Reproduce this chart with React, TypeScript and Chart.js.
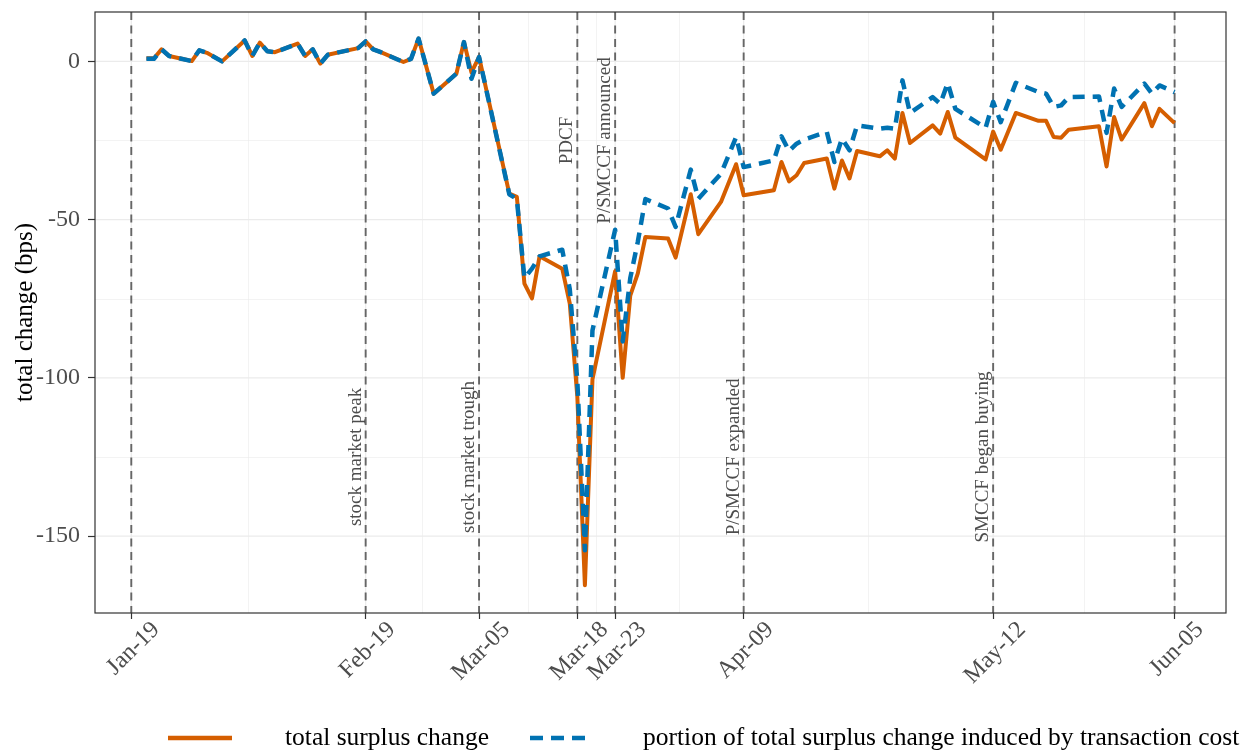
import React, { useEffect, useRef } from "react";
import { Chart, registerables } from "chart.js";

Chart.register(...registerables);

// ---------------- data ----------------
const dates: string[] = [
  "2020-01-21", "2020-01-22", "2020-01-23", "2020-01-24", "2020-01-27", "2020-01-28", "2020-01-29", "2020-01-31",
  "2020-02-03", "2020-02-04", "2020-02-05", "2020-02-06", "2020-02-07", "2020-02-10", "2020-02-11", "2020-02-12",
  "2020-02-13", "2020-02-14", "2020-02-18", "2020-02-19", "2020-02-20", "2020-02-21", "2020-02-24", "2020-02-25",
  "2020-02-26", "2020-02-28", "2020-03-02", "2020-03-03", "2020-03-04", "2020-03-05", "2020-03-09", "2020-03-10",
  "2020-03-11", "2020-03-12", "2020-03-13", "2020-03-16", "2020-03-17", "2020-03-18", "2020-03-19", "2020-03-20",
  "2020-03-23", "2020-03-24", "2020-03-25", "2020-03-26", "2020-03-27", "2020-03-30", "2020-03-31", "2020-04-02",
  "2020-04-03", "2020-04-06", "2020-04-08", "2020-04-09", "2020-04-13", "2020-04-14", "2020-04-15", "2020-04-16",
  "2020-04-17", "2020-04-20", "2020-04-21", "2020-04-22", "2020-04-23", "2020-04-24", "2020-04-27", "2020-04-28",
  "2020-04-29", "2020-04-30", "2020-05-01", "2020-05-04", "2020-05-05", "2020-05-06", "2020-05-07", "2020-05-11",
  "2020-05-12", "2020-05-13", "2020-05-15", "2020-05-18", "2020-05-19", "2020-05-20", "2020-05-21", "2020-05-22",
  "2020-05-26", "2020-05-27", "2020-05-28", "2020-05-29", "2020-06-01", "2020-06-02", "2020-06-03", "2020-06-05",
];

const totalSurplusChange: number[] = [
  1.0, 1.0, 3.8, 1.7, 0.1, 3.5, 2.7, 0.0,
  6.6, 1.7, 5.9, 3.2, 2.9, 5.6, 1.7, 3.8,
  -0.7, 2.1, 4.2, 6.3, 3.8, 2.9, -0.2, 0.8,
  7.2, -10.2, -3.9, 6.1, -3.5, 1.4, -41.8, -42.8,
  -70.2, -74.9, -61.6, -65.5, -76.5, -106.0, -165.5, -100.5,
  -66.3, -100.0, -74.0, -67.0, -55.5, -56.0, -62.0, -42.0,
  -54.6, -44.4, -32.5, -42.3, -40.7, -31.8, -37.9, -36.0,
  -32.1, -30.7, -40.2, -31.3, -37.0, -28.3, -30.0, -28.1,
  -30.7, -16.3, -25.8, -20.2, -22.8, -16.0, -24.1, -31.0,
  -22.2, -27.9, -16.3, -18.8, -18.8, -23.9, -24.1, -21.6,
  -20.5, -33.2, -17.6, -24.7, -13.2, -20.5, -15.0, -19.5,
];

const transactionCostPortion: number[] = [
  0.8, 0.8, 3.8, 1.7, 0.1, 3.5, 2.7, 0.0,
  6.6, 1.7, 5.9, 3.2, 2.9, 5.6, 1.7, 3.8,
  -0.7, 2.1, 4.2, 6.3, 3.8, 2.9, -0.2, 0.8,
  7.2, -10.2, -3.9, 6.1, -5.5, 1.4, -42.0, -43.5,
  -68.5, -65.5, -61.6, -59.5, -72.0, -101.0, -154.5, -85.0,
  -53.2, -88.5, -68.5, -57.0, -43.5, -46.5, -52.3, -34.2,
  -43.4, -35.5, -23.9, -33.4, -31.3, -23.7, -28.3, -26.0,
  -24.7, -22.3, -31.8, -24.4, -28.1, -20.2, -21.3, -21.0,
  -21.3, -6.0, -16.3, -11.3, -13.4, -6.8, -15.0, -21.0,
  -12.8, -19.2, -6.8, -9.7, -10.2, -14.4, -13.9, -11.3,
  -11.1, -22.6, -8.6, -14.4, -7.0, -10.2, -7.6, -9.7,
];

const tickDates: string[] = [
  "2020-01-19", "2020-02-19", "2020-03-05", "2020-03-18",
  "2020-03-23", "2020-04-09", "2020-05-12", "2020-06-05",
];
const tickLabels: string[] = ["Jan-19", "Feb-19", "Mar-05", "Mar-18", "Mar-23", "Apr-09", "May-12", "Jun-05"];

const yTicks: number[] = [0, -50, -100, -150];

const eventDates: string[] = ["2020-02-19", "2020-03-05", "2020-03-18", "2020-03-23", "2020-04-09", "2020-05-12"];
const eventNames: string[] = [
  "stock market peak", "stock market trough", "PDCF",
  "P/SMCCF announced", "P/SMCCF expanded", "SMCCF began buying",
];

const seriesNames: string[] = ["total surplus change", "portion of total surplus change induced by transaction cost"];

// ---------------- helpers / style ----------------
const ORIGIN = Date.UTC(2020, 0, 19);
const dayOf = (s: string) => (Date.parse(s + "T00:00:00Z") - ORIGIN) / 86400000;

const FONT = '"Liberation Serif", "Times New Roman", Times, serif';
const ORANGE = "#D55E00";
const BLUE = "#0072B2";
const TEXT_GRAY = "#4d4d4d";
const GRID = "#ebebeb";
const DARK = "#333333";

// y level (data units) of the centre of each event label
const eventLevel = (name: string) => (name === "PDCF" || name === "P/SMCCF announced" ? -25 : -125);

const decor = {
  id: "decor",
  beforeDatasetsDraw(chart: any) {
    const { ctx, chartArea, scales } = chart;
    const { left, right, top, bottom } = chartArea;
    const xs = scales.x;
    const ys = scales.y;
    ctx.save();
    ctx.beginPath();
    ctx.rect(left, top, right - left, bottom - top);
    ctx.clip();

    const tickPx = tickDates.map((d) => xs.getPixelForValue(dayOf(d)));
    const yPx = yTicks.map((v) => ys.getPixelForValue(v));

    // minor grid
    ctx.strokeStyle = GRID;
    ctx.lineWidth = 0.6;
    for (let i = 0; i < tickDates.length - 1; i++) {
      const v = (dayOf(tickDates[i]) + dayOf(tickDates[i + 1])) / 2;
      const px = Math.round(xs.getPixelForValue(v)) + 0.5;
      ctx.beginPath();
      ctx.moveTo(px, top);
      ctx.lineTo(px, bottom);
      ctx.stroke();
    }
    for (let i = 0; i < yTicks.length - 1; i++) {
      const v = (yTicks[i] + yTicks[i + 1]) / 2;
      const py = Math.round(ys.getPixelForValue(v)) + 0.5;
      ctx.beginPath();
      ctx.moveTo(left, py);
      ctx.lineTo(right, py);
      ctx.stroke();
    }
    // major grid
    ctx.lineWidth = 1.2;
    tickPx.forEach((px) => {
      ctx.beginPath();
      ctx.moveTo(px, top);
      ctx.lineTo(px, bottom);
      ctx.stroke();
    });
    yPx.forEach((py) => {
      ctx.beginPath();
      ctx.moveTo(left, py);
      ctx.lineTo(right, py);
      ctx.stroke();
    });

    // event vertical dashed lines
    ctx.strokeStyle = "#666666";
    ctx.lineWidth = 1.9;
    ctx.setLineDash([8, 5.5]);
    tickPx.forEach((px) => {
      ctx.beginPath();
      ctx.moveTo(px, top);
      ctx.lineTo(px, bottom);
      ctx.stroke();
    });
    ctx.setLineDash([]);

    // event labels
    ctx.fillStyle = TEXT_GRAY;
    ctx.font = `19px ${FONT}`;
    ctx.textAlign = "center";
    ctx.textBaseline = "middle";
    eventNames.forEach((name, i) => {
      const px = xs.getPixelForValue(dayOf(eventDates[i])) - 10;
      const py = ys.getPixelForValue(eventLevel(name));
      ctx.save();
      ctx.translate(px, py);
      ctx.rotate(-Math.PI / 2);
      ctx.fillText(name, 0, 0);
      ctx.restore();
    });
    ctx.restore();
  },
  afterDatasetsDraw(chart: any) {
    const { ctx, chartArea } = chart;
    const { left, right, top, bottom } = chartArea;
    ctx.save();
    ctx.strokeStyle = DARK;
    ctx.lineWidth = 1.2;
    ctx.strokeRect(left, top, right - left, bottom - top);
    ctx.restore();
  },
  afterDraw(chart: any) {
    const { ctx, chartArea, scales } = chart;
    const { top, bottom } = chartArea;
    const xs = scales.x;
    ctx.save();
    // x tick labels, rotated 45 degrees, centred under the tick
    ctx.fillStyle = TEXT_GRAY;
    ctx.font = `24px ${FONT}`;
    ctx.textAlign = "center";
    ctx.textBaseline = "middle";
    tickLabels.forEach((lab, i) => {
      const px = xs.getPixelForValue(dayOf(tickDates[i])) + 2;
      const m = ctx.measureText(lab);
      const h = 17;
      const ext = (m.width + h) * Math.SQRT1_2;
      const cy = bottom + 7 + ext / 2;
      ctx.save();
      ctx.translate(px, cy);
      ctx.rotate(-Math.PI / 4);
      ctx.fillText(lab, 0, 0);
      ctx.restore();
    });

    // y axis title
    ctx.fillStyle = "#000";
    ctx.font = `25px ${FONT}`;
    ctx.save();
    ctx.translate(25, (top + bottom) / 2);
    ctx.rotate(-Math.PI / 2);
    ctx.fillText("total change (bps)", 0, 0);
    ctx.restore();

    // legend
    const ly = 738;
    ctx.lineCap = "butt";
    ctx.strokeStyle = ORANGE;
    ctx.lineWidth = 4.5;
    ctx.beginPath();
    ctx.moveTo(168, ly);
    ctx.lineTo(232, ly);
    ctx.stroke();
    ctx.strokeStyle = BLUE;
    ctx.setLineDash([13, 8]);
    ctx.beginPath();
    ctx.moveTo(530, ly);
    ctx.lineTo(585, ly);
    ctx.stroke();
    ctx.setLineDash([]);
    ctx.fillStyle = "#000";
    ctx.font = `25.5px ${FONT}`;
    ctx.textAlign = "left";
    ctx.textBaseline = "middle";
    ctx.fillText(seriesNames[0], 285, ly);
    ctx.fillText(seriesNames[1], 643, ly);
    ctx.restore();
  },
};

export default function App() {
  const ref = useRef<HTMLCanvasElement | null>(null);

  useEffect(() => {
    const canvas = ref.current;
    if (!canvas) return;
    const xs = dates.map(dayOf);
    const chart = new Chart(canvas, {
      type: "line",
      data: {
        datasets: [
          {
            label: seriesNames[1],
            data: xs.map((x, i) => ({ x, y: transactionCostPortion[i] })),
            borderColor: BLUE,
            backgroundColor: BLUE,
            borderWidth: 4.5,
            borderDash: [12, 8],
            borderCapStyle: "butt",
            borderJoinStyle: "round",
            pointRadius: 0,
            tension: 0,
            fill: false,
            order: 1,
          },
          {
            label: seriesNames[0],
            data: xs.map((x, i) => ({ x, y: totalSurplusChange[i] })),
            borderColor: ORANGE,
            backgroundColor: ORANGE,
            borderWidth: 4,
            borderCapStyle: "butt",
            borderJoinStyle: "round",
            pointRadius: 0,
            tension: 0,
            fill: false,
            order: 2,
          },
        ],
      },
      options: {
        animation: false,
        responsive: false,
        events: [],
        layout: { padding: { top: 12, right: 20, left: 0, bottom: 0 } },
        plugins: { legend: { display: false }, tooltip: { enabled: false }, title: { display: false } },
        scales: {
          x: {
            type: "linear",
            min: -4.8,
            max: 144.8,
            afterBuildTicks: (s: any) => {
              s.ticks = tickDates.map((d) => ({ value: dayOf(d) }));
            },
            ticks: { display: false },
            grid: { drawOnChartArea: false, drawTicks: true, tickLength: 6, tickColor: DARK, tickWidth: 1.2, color: DARK },
            border: { display: false },
            afterFit: (s: any) => {
              s.height = 138;
              s.paddingLeft = 0;
              s.paddingRight = 0;
            },
          },
          y: {
            type: "linear",
            min: -174.3,
            max: 15.6,
            afterBuildTicks: (s: any) => {
              s.ticks = yTicks.map((v) => ({ value: v }));
            },
            ticks: {
              font: { family: FONT, size: 24 },
              color: TEXT_GRAY,
              padding: 8,
              callback: (v: any) => String(v),
            },
            grid: { drawOnChartArea: false, drawTicks: true, tickLength: 7, tickColor: DARK, tickWidth: 1.2, color: DARK },
            border: { display: false },
            afterFit: (s: any) => {
              s.width = 95;
              s.paddingTop = 0;
              s.paddingBottom = 0;
            },
          },
        },
      },
      plugins: [decor],
    } as any);
    return () => chart.destroy();
  }, []);

  return (
    <div style={{ position: "absolute", left: 0, top: 0, width: 1246, height: 751, background: "#fff" }}>
      <canvas ref={ref} width={1246} height={751} style={{ display: "block", width: 1246, height: 751 }} />
    </div>
  );
}
